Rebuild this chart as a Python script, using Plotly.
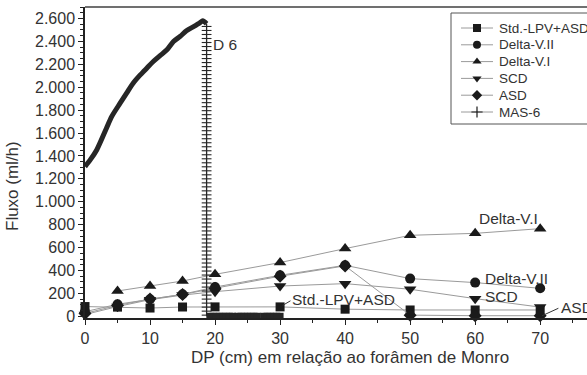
import plotly.graph_objects as go

# ---------------- data ----------------
dp_x = [0, 5, 10, 15, 20, 30, 40, 50, 60, 70]
std_lpv_asd = [85, 80, 72, 81, 82, 82, 62, 55, 55, 55]
delta_v2 = [40, 105, 148, 192, 255, 358, 445, 329, 294, 244]
dv1_x = [5, 10, 15, 20, 30, 40, 50, 60, 70]
delta_v1 = [221, 264, 308, 366, 469, 591, 707, 724, 765]
scd = [15, 85, 145, 185, 215, 264, 285, 236, 154, 80]
asd = [25, 95, 150, 190, 245, 350, 440, 10, 5, 5]

mas6_x = [0, 0.8, 1.8, 3.3, 4.1, 5.4, 6.4, 7.4, 8.5, 9.5, 10.5, 11.5, 12.6,
          13.6, 14.6, 15.6, 16.7, 17.7, 18.1, 18.7]
mas6_y = [1307, 1365, 1452, 1642, 1743, 1860, 1948, 2035, 2107, 2166, 2224,
          2273, 2326, 2398, 2442, 2492, 2529, 2564, 2579, 2553]
# dense readings along the drop at ~18.7 cm
d6_x = 18.7
d6_y = [2530, 2495, 2460, 2425, 2390, 2355, 2320, 2285, 2250, 2215, 2180,
        2145, 2110, 2075, 2040, 2005, 1970, 1935, 1900, 1865, 1830, 1795,
        1760, 1725, 1690, 1655, 1620, 1585, 1550, 1515, 1480, 1445, 1410,
        1375, 1340, 1305, 1270, 1235, 1200, 1165, 1130, 1095, 1060, 1025,
        990, 955, 920, 885, 850, 815, 780, 745, 710, 675, 640, 605, 570,
        535, 500, 465, 430, 395, 360, 325, 290, 255, 220, 185, 150, 115,
        80, 45, 10]
# dense readings at zero level after the drop
zero_x = [19.2, 19.7, 20.2, 20.7, 21.2, 21.7, 22.2, 22.7, 23.5, 24.0, 24.5,
          25.0, 25.5, 26.0, 26.5, 27.5, 28.0, 28.5, 29.0, 29.5, 30.0]
zero_y = [0] * len(zero_x)

y_ticks = [0, 200, 400, 600, 800, 1000, 1200, 1400, 1600, 1800, 2000, 2200,
           2400, 2600]
x_ticks = [0, 10, 20, 30, 40, 50, 60, 70]

legend_names = ["Std.-LPV+ASD", "Delta-V.II", "Delta-V.I", "SCD", "ASD",
                "MAS-6"]
legend_symbols = ["square", "circle", "triangle-up", "triangle-down",
                  "diamond", "cross-thin"]

# ---------------- styling ----------------
LINE = "#9a9a9a"
MK = "#1a1a1a"
TXT = "#333333"
FONT = "Liberation Sans, Arial, sans-serif"

# plot-area geometry in pixels (for the hand-built legend overlay)
L, R, T, B = 85, 587, 7, 318

fig = go.Figure()

def series(name, xs, ys, symbol, size):
    fig.add_trace(go.Scatter(
        x=xs, y=ys, name=name, mode="lines+markers",
        line=dict(color=LINE, width=1),
        marker=dict(symbol=symbol, size=size, color=MK),
        cliponaxis=False, showlegend=False))

series("Std.-LPV+ASD", dp_x, std_lpv_asd, "square", 9)
series("Delta-V.II", dp_x, delta_v2, "circle", 10)
series("Delta-V.I", dv1_x, delta_v1, "triangle-up", 11)
series("SCD", dp_x, scd, "triangle-down", 11)
series("ASD", dp_x, asd, "diamond", 10)

# MAS-6 curve
fig.add_trace(go.Scatter(
    x=mas6_x, y=mas6_y, mode="lines", showlegend=False, name="MAS-6",
    line=dict(color="#262626", width=5, shape="spline", smoothing=0.8),
    cliponaxis=False))
# vertical drop
fig.add_trace(go.Scatter(
    x=[d6_x] * (len(d6_y) + 2), y=[mas6_y[-1]] + d6_y + [0], mode="lines",
    showlegend=False, line=dict(color="#262626", width=1.3)))
fig.add_trace(go.Scatter(
    x=[d6_x] * len(d6_y), y=d6_y, mode="markers", showlegend=False,
    marker=dict(symbol="line-ew", size=7, color=MK,
                line=dict(color="#262626", width=1.1))))
# zero-level dense points
fig.add_trace(go.Scatter(
    x=zero_x, y=zero_y, mode="markers", showlegend=False,
    marker=dict(symbol="square", size=7, color="#262626"),
    cliponaxis=False))

# in-plot labels
def lab(text, x, y, size=15.5):
    fig.add_annotation(x=x, y=y, text=text, showarrow=False, xanchor="left",
                       yanchor="middle", font=dict(size=size, color=TXT,
                                                   family=FONT))

lab("D 6", 19.4, 2369)
lab("Delta-V.I", 60.3, 850)
lab("Delta-V.II", 61.2, 334)
lab("SCD", 61.2, 169)
lab("Std.-LPV+ASD", 31.5, 143)
lab("ASD", 72.9, 80)

# leader lines
leaders_x = [[30.4, 31.6], [70.3, 72.8]]
leaders_y = [[95, 135], [5, 70]]
for lx, ly in zip(leaders_x, leaders_y):
    fig.add_trace(go.Scatter(x=lx, y=ly, mode="lines", showlegend=False,
                             line=dict(color="#333333", width=1),
                             cliponaxis=False))

# axis titles
fig.add_annotation(x=40.8, y=(B - 357) / (B - T), xref="x", yref="paper",
                   xanchor="center", yanchor="middle",
                   text="DP (cm) em relação ao forâmen de Monro",
                   showarrow=False, font=dict(size=17, color=TXT, family=FONT))
fig.add_annotation(x=(12 - L) / (R - L), y=(B - 186) / (B - T), xref="paper",
                   yref="paper", xanchor="center", yanchor="middle",
                   text="Fluxo (ml/h)", textangle=-90,
                   showarrow=False, font=dict(size=17, color=TXT, family=FONT))

# top frame line
fig.add_shape(type="line", xref="paper", yref="paper", x0=0, x1=1, y0=1,
              y1=1, line=dict(color="#707070", width=2))

# ---------------- legend (overlay axes in pixel units) ----------------
fig.add_shape(type="rect", xref="x2", yref="y2", x0=451, x1=600, y0=13,
              y1=124, line=dict(color="#555555", width=1),
              fillcolor="white", layer="below")
row0, row_gap = 28, 16.8
for i, (nm, sym) in enumerate(zip(legend_names, legend_symbols)):
    yy = row0 + i * row_gap
    fig.add_trace(go.Scatter(
        x=[461, 493], y=[yy, yy], xaxis="x2", yaxis="y2", mode="lines",
        line=dict(color=LINE, width=1), showlegend=False, hoverinfo="skip"))
    mline = dict(color=MK, width=1.2) if sym == "cross-thin" else dict(width=0)
    fig.add_trace(go.Scatter(
        x=[477], y=[yy], xaxis="x2", yaxis="y2", mode="markers",
        marker=dict(symbol=sym, size=8, color=MK, line=mline),
        showlegend=False, hoverinfo="skip"))
    fig.add_annotation(x=497, y=yy, xref="x2", yref="y2", text=nm,
                       xanchor="left", yanchor="middle", showarrow=False,
                       font=dict(size=13.5, color=TXT, family=FONT))

fig.update_layout(
    width=587, height=375,
    margin=dict(l=L, r=0, t=T, b=375 - B),
    paper_bgcolor="white", plot_bgcolor="white",
    separators=",.",
    showlegend=False,
    font=dict(family=FONT, color=TXT, size=16),
    xaxis=dict(range=[0, 77.2], tickvals=x_ticks, showgrid=False,
               zeroline=False, showline=True, linecolor="#222222",
               linewidth=1.5, ticks="outside", ticklen=5, tickwidth=1,
               tickcolor="#222222",
               minor=dict(dtick=5, ticks="outside", ticklen=3,
                          tickcolor="#222222"),
               tickfont=dict(size=16, color=TXT)),
    yaxis=dict(range=[-15, 2700], tickvals=y_ticks, tickformat=",d",
               showgrid=False, zeroline=False, showline=True,
               linecolor="#222222", linewidth=1.5, ticks="outside",
               ticklen=5, tickwidth=1, tickcolor="#222222",
               minor=dict(dtick=50, ticks="outside", ticklen=3,
                          tickcolor="#222222"),
               tickfont=dict(size=16, color=TXT)),
    xaxis2=dict(overlaying="x", range=[L, R], visible=False, fixedrange=True),
    yaxis2=dict(overlaying="y", range=[B, T], visible=False, fixedrange=True),
)

fig.write_html("out.html")
